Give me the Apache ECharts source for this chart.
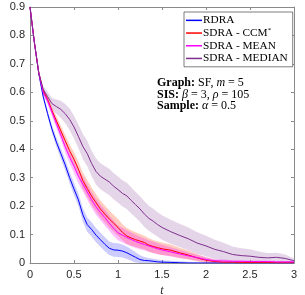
<!DOCTYPE html>
<html>
<head>
<meta charset="utf-8">
<script src="https://cdn.jsdelivr.net/npm/echarts@6/dist/echarts.min.js"></script>
<style>html,body{margin:0;padding:0;background:#fff;}#c{width:305px;height:295px;}</style>
</head>
<body>
<div id="c"></div>
<script>
// time grid
var T = [0,0.05,0.1,0.15,0.2,0.25,0.3,0.35,0.4,0.45,0.5,0.55,0.6,0.65,0.7,0.75,0.8,0.85,0.9,0.95,1.0,1.05,1.1,1.15,1.2,1.25,1.3,1.35,1.4,1.45,1.5,
         1.6,1.7,1.8,1.9,2.0,2.1,2.2,2.3,2.4,2.5,2.6,2.7,2.8,2.9,3.0];
var xTicks = [0,0.5,1,1.5,2,2.5,3];
var yTicks = [0,0.1,0.2,0.3,0.4,0.5,0.6,0.7,0.8,0.9];
var seriesNames = ['RDRA','SDRA - CCM*','SDRA - MEAN','SDRA - MEDIAN'];

var rdra = [0.9,0.775,0.665,0.585,0.525,0.47,0.425,0.385,0.345,0.30,0.26,0.222,0.17,0.135,0.118,0.098,0.082,0.066,0.052,0.046,0.045,0.042,0.036,0.028,0.02,0.012,0.009,0.008,0.006,0.004,0.003,
            0.002,0.001,0,0,0,0,0,0,0,0,0,0,0,0,0];
var rdraBand = [0,0.004,0.008,0.01,0.012,0.014,0.016,0.018,0.02,0.02,0.022,0.022,0.024,0.025,0.025,0.025,0.025,0.025,0.024,0.024,0.024,0.023,0.022,0.02,0.018,0.015,0.012,0.01,0.009,0.008,0.007,
                0.006,0.005,0.004,0.003,0.002,0.002,0.001,0.001,0.001,0.001,0.001,0.001,0.001,0.001,0.001];

var ccm = [0.9,0.775,0.668,0.605,0.575,0.535,0.50,0.465,0.43,0.395,0.365,0.33,0.29,0.262,0.235,0.212,0.19,0.172,0.155,0.14,0.125,0.108,0.095,0.088,0.082,0.077,0.072,0.063,0.058,0.054,0.05,
           0.045,0.036,0.028,0.018,0.01,0.005,0.003,0.003,0.002,0.002,0.002,0.002,0.001,0.001,0.001];
var ccmBand = [0,0.004,0.008,0.01,0.012,0.014,0.016,0.018,0.02,0.022,0.024,0.026,0.028,0.03,0.03,0.03,0.03,0.03,0.03,0.03,0.03,0.028,0.028,0.027,0.026,0.025,0.024,0.024,0.023,0.022,0.022,
               0.02,0.018,0.016,0.013,0.01,0.006,0.004,0.003,0.003,0.002,0.002,0.002,0.002,0.001,0.001];

var mean = [0.9,0.775,0.668,0.6,0.57,0.53,0.49,0.45,0.408,0.372,0.34,0.305,0.278,0.25,0.222,0.198,0.178,0.16,0.14,0.122,0.106,0.098,0.09,0.083,0.076,0.07,0.065,0.06,0.055,0.05,0.046,
            0.039,0.032,0.025,0.019,0.012,0.008,0.007,0.006,0.006,0.005,0.005,0.005,0.004,0.004,0.004];
var meanBand = [0,0.004,0.008,0.01,0.012,0.014,0.016,0.018,0.02,0.022,0.024,0.025,0.026,0.027,0.028,0.028,0.028,0.028,0.027,0.027,0.026,0.026,0.025,0.024,0.023,0.022,0.021,0.02,0.02,0.019,0.018,
                0.016,0.014,0.012,0.01,0.008,0.006,0.005,0.004,0.004,0.004,0.004,0.004,0.003,0.003,0.003];

var median = [0.9,0.775,0.668,0.61,0.585,0.56,0.55,0.54,0.525,0.505,0.478,0.445,0.41,0.385,0.35,0.322,0.305,0.295,0.285,0.27,0.258,0.245,0.236,0.22,0.205,0.19,0.172,0.157,0.147,0.135,0.125,
              0.11,0.097,0.085,0.07,0.06,0.048,0.04,0.03,0.026,0.024,0.02,0.018,0.02,0.016,0.008];
var medianBand = [0,0.004,0.008,0.012,0.016,0.02,0.025,0.03,0.034,0.038,0.04,0.042,0.044,0.045,0.045,0.046,0.046,0.046,0.046,0.046,0.046,0.046,0.046,0.046,0.045,0.045,0.045,0.044,0.044,0.043,0.043,
                  0.042,0.041,0.04,0.038,0.036,0.034,0.031,0.028,0.026,0.024,0.02,0.017,0.016,0.014,0.008];

var lineColors = ['#0000ff','#ff0000','#ff00ff','#7e2f8e'];
var bandColors = ['rgba(0,0,255,0.2)','rgba(255,110,70,0.35)','rgba(255,0,255,0.25)','rgba(126,47,142,0.2)'];
var values = [rdra, ccm, mean, median];
var bands = [rdraBand, ccmBand, meanBand, medianBand];

function bandSeries(k) {
  var v = values[k], b = bands[k];
  var data = T.map(function (t, i) { return [t, Math.max(0, v[i] - b[i]), v[i] + b[i]]; });
  return {
    type: 'custom', silent: true, z: 1,
    data: data,
    encode: { x: 0, y: [1, 2] },
    renderItem: function (params, api) {
      if (params.dataIndex !== 0) return null;
      var pts = [];
      for (var i = 0; i < data.length; i++) pts.push(api.coord([data[i][0], data[i][2]]));
      for (var j = data.length - 1; j >= 0; j--) pts.push(api.coord([data[j][0], data[j][1]]));
      return { type: 'polygon', shape: { points: pts }, style: { fill: bandColors[k] } };
    }
  };
}

var series = [bandSeries(3), bandSeries(1), bandSeries(2), bandSeries(0)];
for (var k = 0; k < 4; k++) {
  series.push({
    name: seriesNames[k], type: 'line', z: 3, symbol: 'none',
    color: lineColors[k],
    lineStyle: { color: lineColors[k], width: 1 },
    data: T.map(function (t, i) { return [t, values[k][i]]; })
  });
}

var axisGray = '#8a8a8a';
var tickFont = { fontFamily: 'Liberation Sans', fontSize: 11, color: '#262626' };
var serif = 'Liberation Serif';

var chart = echarts.init(document.getElementById('c'), null, { renderer: 'canvas' });
chart.setOption({
  animation: false,
  backgroundColor: '#fff',
  grid: { left: 30, right: 11, top: 7, bottom: 32, containLabel: false, outerBoundsMode: 'none' },
  xAxis: [{
    type: 'value', min: 0, max: 3, interval: 0.5,
    axisLine: { show: true, lineStyle: { color: axisGray, width: 1 } },
    axisTick: { show: true, inside: true, length: 3, lineStyle: { color: axisGray } },
    splitLine: { show: false },
    axisLabel: Object.assign({ margin: 6, formatter: function (v) { return xTicks.indexOf(v) >= 0 ? String(v) : ''; } }, tickFont),
    name: 't', nameLocation: 'middle', nameGap: 18,
    nameTextStyle: { fontFamily: serif, fontStyle: 'italic', fontSize: 12, color: '#262626' }
  }, {
    type: 'value', position: 'top', min: 0, max: 3, interval: 0.5,
    axisLine: { show: true, onZero: false, lineStyle: { color: axisGray, width: 1 } },
    axisTick: { show: true, inside: true, length: 3, lineStyle: { color: axisGray } },
    axisLabel: { show: false }, splitLine: { show: false }
  }],
  yAxis: [{
    type: 'value', min: 0, max: 0.9, interval: 0.1,
    axisLine: { show: true, lineStyle: { color: axisGray, width: 1 } },
    axisTick: { show: true, inside: true, length: 3, lineStyle: { color: axisGray } },
    splitLine: { show: false },
    axisLabel: Object.assign({ margin: 5, formatter: function (v) { var r = Math.round(v * 10) / 10; return yTicks.indexOf(r) >= 0 ? String(r) : ''; } }, tickFont),
    name: 'η{s|t}', nameLocation: 'middle', nameGap: 20, nameRotate: 90,
    nameTextStyle: { fontFamily: serif, fontStyle: 'italic', fontSize: 12, color: '#262626',
      rich: { s: { fontFamily: serif, fontStyle: 'italic', fontSize: 8, color: '#262626', padding: [5, 0, 0, 0] } } }
  }, {
    type: 'value', position: 'right', min: 0, max: 0.9, interval: 0.1,
    axisLine: { show: true, onZero: false, lineStyle: { color: axisGray, width: 1 } },
    axisTick: { show: true, inside: true, length: 3, lineStyle: { color: axisGray } },
    axisLabel: { show: false }, splitLine: { show: false }
  }],
  legend: {
    data: seriesNames, orient: 'vertical', left: 184, top: 12,
    icon: 'rect', itemWidth: 16, itemHeight: 1.5, itemGap: 0,
    padding: [2, 5, 2, 2],
    borderColor: '#262626', borderWidth: 0.6, backgroundColor: '#fff',
    selectedMode: false,
    formatter: function (n) { return n === 'SDRA - CCM*' ? 'SDRA - CCM{sup|*}' : n; },
    textStyle: { fontFamily: serif, fontSize: 11.3, color: '#000', lineHeight: 12.7, padding: [0, 0, 0, -4],
      rich: { sup: { fontFamily: serif, fontSize: 7, color: '#000', padding: [0, 0, 5, 0] } } }
  },
  graphic: [{
    type: 'text', left: 157, top: 77,
    style: {
      text: '{b|Graph:}{r| SF, }{i|m}{r| = 5}\n{b|SIS:}{r| }{i|β}{r| = 3, }{i|ρ}{r| = 105}\n{b|Sample:}{r| }{i|α}{r| = 0.5}',
      fill: '#000', fontFamily: serif, fontSize: 12, lineHeight: 11.5,
      rich: {
        b: { fontFamily: serif, fontSize: 12, fontWeight: 'bold', fill: '#000', lineHeight: 11.5 },
        r: { fontFamily: serif, fontSize: 12, fill: '#000', lineHeight: 11.5 },
        i: { fontFamily: serif, fontSize: 12, fontStyle: 'italic', fill: '#000', lineHeight: 11.5 }
      }
    }
  }],
  series: series
});
</script>
</body>
</html>
